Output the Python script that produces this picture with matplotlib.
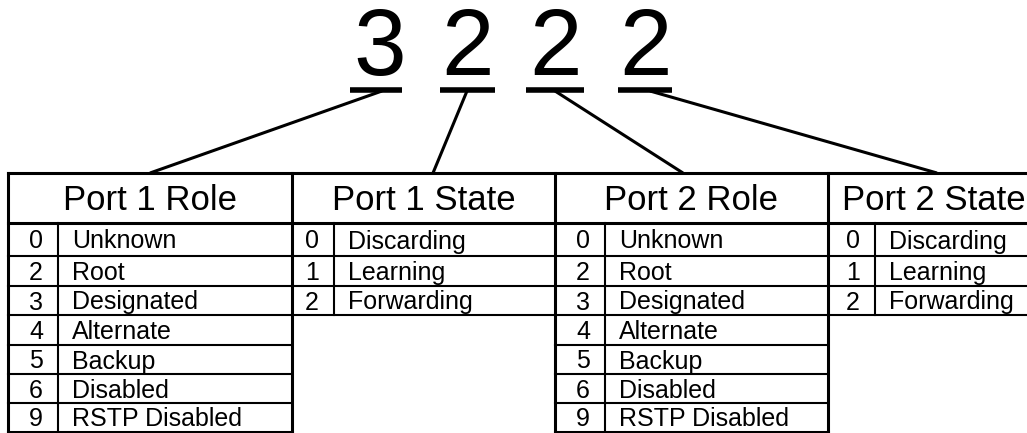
import matplotlib
matplotlib.use("Agg")
import matplotlib.pyplot as plt

# ---- data ----
code_digits = ["3", "2", "2", "2"]
table_titles = ["Port 1 Role", "Port 1 State", "Port 2 Role", "Port 2 State"]
role_codes = ["0", "2", "3", "4", "5", "6", "9"]
role_names = ["Unknown", "Root", "Designated", "Alternate", "Backup", "Disabled", "RSTP Disabled"]
state_codes = ["0", "1", "2"]
state_names = ["Discarding", "Learning", "Forwarding"]

# ---- layout (pixels) ----
W, H = 1027, 433
fig = plt.figure(figsize=(W / 100, H / 100), dpi=100)
ax = fig.add_axes([0, 0, 1, 1])
ax.set_xlim(0, W)
ax.set_ylim(H, 0)
ax.axis("off")

FONT = "Liberation Sans"
K = "black"
THICK = 2.2
THIN = 1.5

top_y = 173
head_y = 223
row_edges = [223, 256, 286, 315, 345, 374, 403, 432]
col_x = [8, 292, 555, 828, 1040]
sub_x = [58, 334, 605, 875]
digit_x = [380, 468, 556, 646]
under_x = [(350, 402), (440, 495), (526, 584), (618, 672)]
link_start = [382, 467, 555, 650]
link_end = [150, 433, 683, 937]

# digits, underlines, connectors
for i, d in enumerate(code_digits):
    ax.text(digit_x[i], 75, d, fontsize=68, family=FONT, ha="center", va="baseline", color=K)
    ax.plot(under_x[i], [89.5, 89.5], color=K, lw=4.0, solid_capstyle="butt")
    ax.plot([link_start[i], link_end[i]], [91, top_y], color=K, lw=THICK, solid_capstyle="butt")

# table frame
ax.plot([col_x[0], W], [top_y, top_y], color=K, lw=THICK)
ax.plot([col_x[0], W], [head_y, head_y], color=K, lw=THICK)
for x in col_x[:4]:
    ax.plot([x, x], [top_y, 432], color=K, lw=THICK)

tables = [(role_codes, role_names), (state_codes, state_names),
          (role_codes, role_names), (state_codes, state_names)]

for t, (codes, names) in enumerate(tables):
    x0, x1 = col_x[t], min(col_x[t + 1], W)
    xc = (col_x[t] + col_x[t + 1]) / 2
    ax.text(xc, (top_y + head_y) / 2 + 12.5, table_titles[t], fontsize=25, family=FONT,
            ha="center", va="baseline", color=K)
    n = len(codes)
    ax.plot([sub_x[t], sub_x[t]], [head_y, row_edges[n]], color=K, lw=THIN)
    for r in range(n):
        y_lo, y_hi = row_edges[r], row_edges[r + 1]
        lw = THICK if (r == n - 1 and n == 7) else THIN
        ax.plot([x0, x1], [y_hi, y_hi], color=K, lw=lw)
        yb = (y_lo + y_hi) / 2 + 9
        ax.text(sub_x[t] - 22, yb, codes[r], fontsize=18, family=FONT,
                ha="center", va="baseline", color=K)
        ax.text(sub_x[t] + 14, yb, names[r], fontsize=18, family=FONT,
                ha="left", va="baseline", color=K)

fig.savefig("out.png", dpi=100, facecolor="white")
